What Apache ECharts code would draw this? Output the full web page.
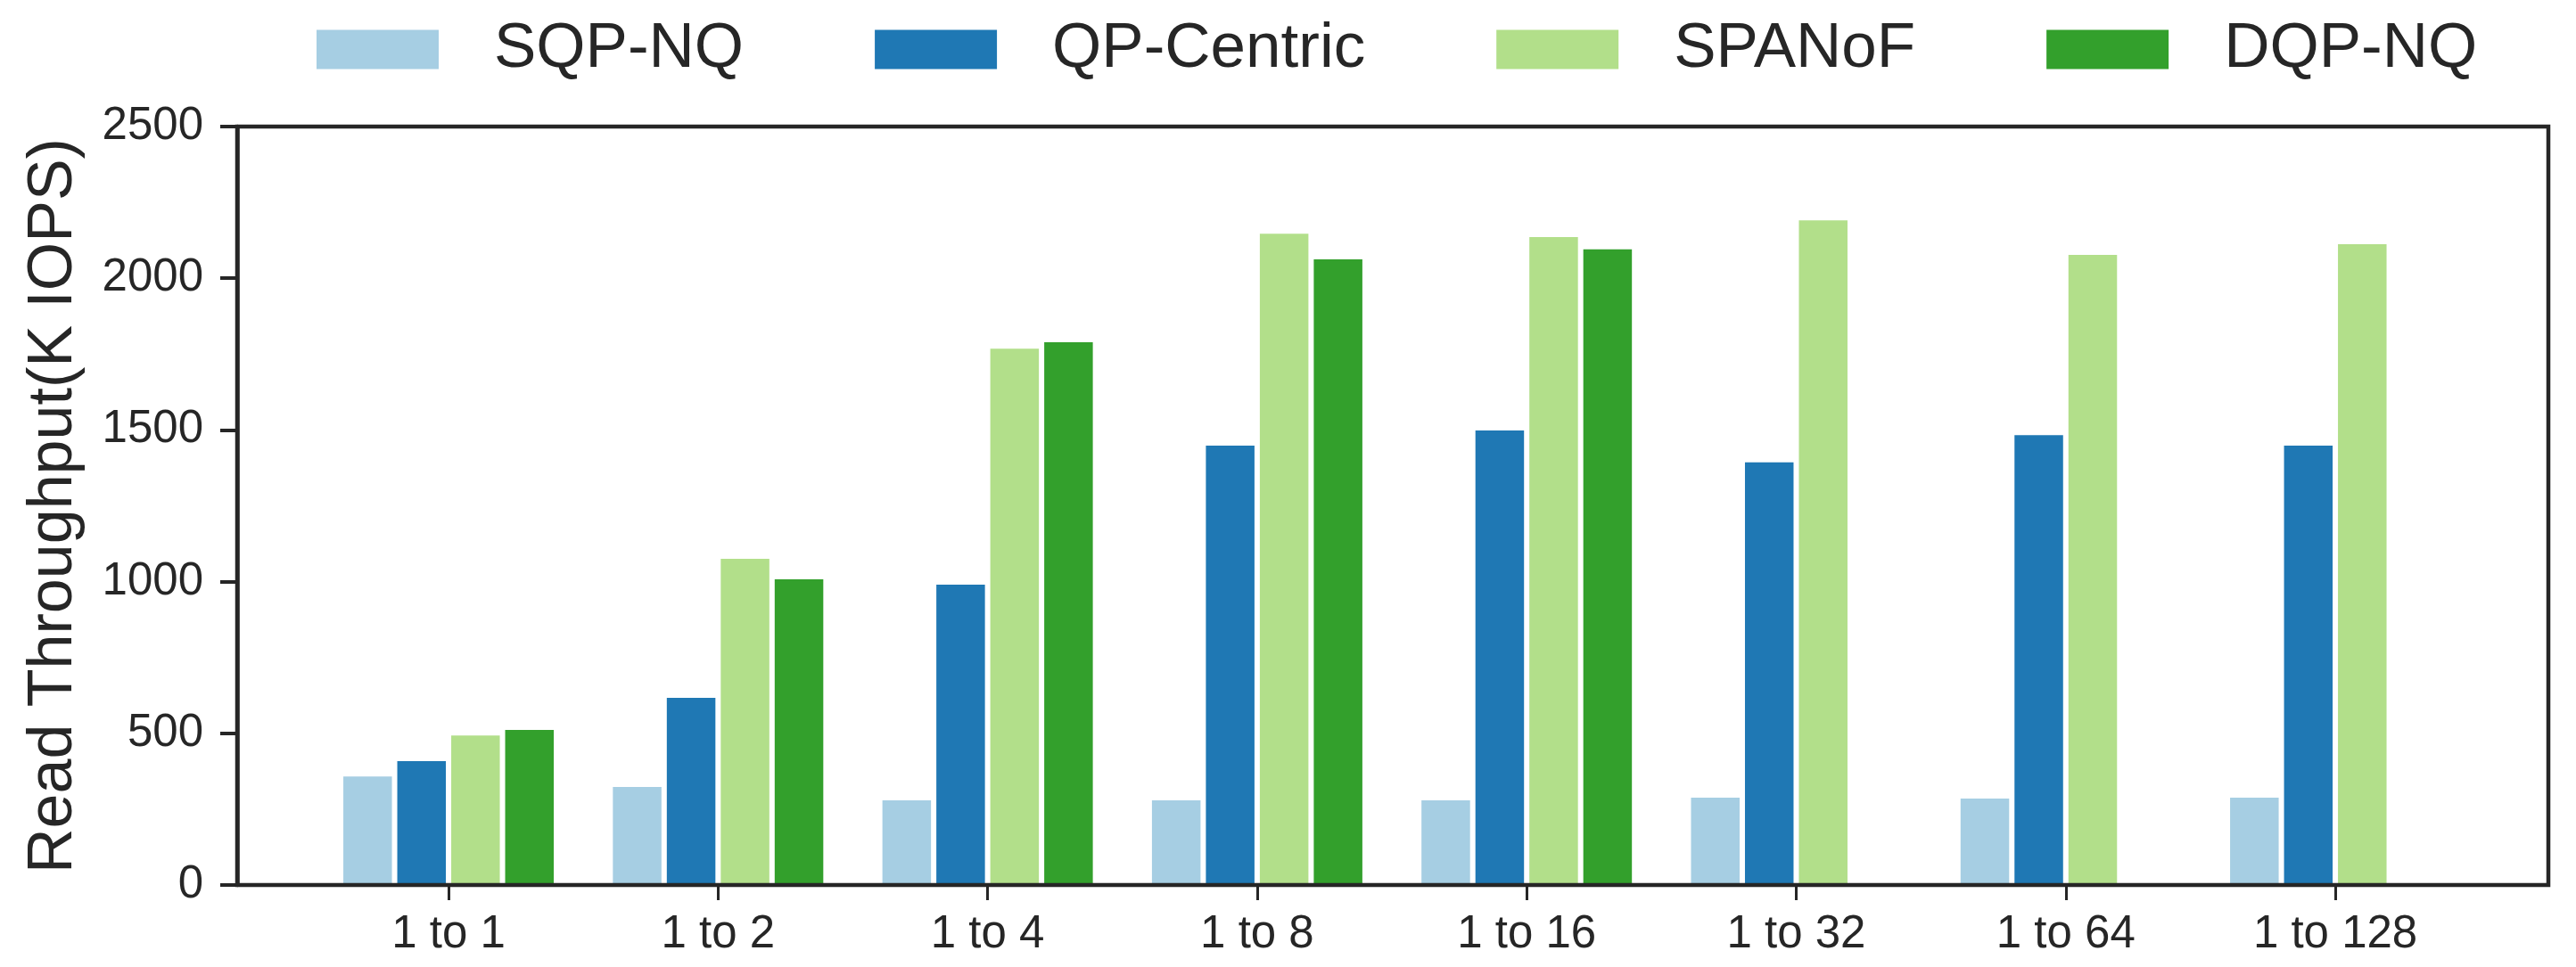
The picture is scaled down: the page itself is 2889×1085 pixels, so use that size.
<!DOCTYPE html>
<html>
<head>
<meta charset="utf-8">
<script src="https://cdn.jsdelivr.net/npm/echarts@6/dist/echarts.min.js"></script>
<style>
html,body{margin:0;padding:0;background:#fff;}
#chart{width:2889px;height:1085px;}
</style>
</head>
<body>
<div id="chart"></div>
<script>
const categories = ['1 to 1','1 to 2','1 to 4','1 to 8','1 to 16','1 to 32','1 to 64','1 to 128'];
const seriesNames = ['SQP-NQ','QP-Centric','SPANoF','DQP-NQ'];
const sqpNQ     = [358, 323, 279, 279, 279, 288, 285, 288];
const qpCentric = [408, 617, 990, 1448, 1498, 1393, 1483, 1448];
const spanof    = [493, 1075, 1768, 2147, 2136, 2191, 2077, 2112];
const dqpNQ     = [511, 1008, 1789, 2062, 2095, null, null, null];
const yTicks = [0, 500, 1000, 1500, 2000, 2500];
const colors = ['#a6cee3','#1f78b4','#b2df8a','#33a02c'];

const FONT = "'Liberation Sans', Arial, Helvetica, sans-serif";
const INK = '#262626';
const chart = echarts.init(document.getElementById('chart'), null, {renderer:'canvas'});
const values = [sqpNQ, qpCentric, spanof, dqpNQ];

chart.setOption({
  animation: false,
  backgroundColor: '#ffffff',
  textStyle: {fontFamily: FONT, color: INK},
  legend: {
    left: 350, top: 15,
    icon: 'rect',
    itemWidth: 137, itemHeight: 44,
    itemGap: 147,
    textStyle: {fontSize: 71, color: INK, fontFamily: FONT, padding: [0,0,0,57]},
    data: seriesNames
  },
  grid: [
    {left: 351.9, right: 118.8, top: 142, bottom: 92},
    {left: 266, right: 31, top: 142, bottom: 92, show: true, borderColor: INK, borderWidth: 4.5, backgroundColor: 'transparent', z: 5}
  ],
  xAxis: [
    {
      type: 'category', gridIndex: 0, data: categories, boundaryGap: true,
      axisLine: {show: false},
      axisTick: {show: true, alignWithLabel: true, length: 17, lineStyle: {color: INK, width: 3}},
      axisLabel: {fontSize: 51, color: INK, fontFamily: FONT, margin: 30},
      splitLine: {show: false}
    },
    {type: 'value', gridIndex: 1, show: false, min: 0, max: 1}
  ],
  yAxis: [
    {type: 'value', gridIndex: 0, min: 0, max: 2500, interval: 500, show: false},
    {
      type: 'value', gridIndex: 1, min: 0, max: 2500, interval: 500,
      name: 'Read Throughput(K IOPS)', nameLocation: 'middle', nameGap: 170,
      nameTextStyle: {fontSize: 70, color: INK, fontFamily: FONT},
      axisLine: {show: true, lineStyle: {color: INK, width: 4.5}},
      axisTick: {show: true, length: 19, lineStyle: {color: INK, width: 4}},
      axisLabel: {fontSize: 51, color: INK, fontFamily: FONT, margin: 38,
        formatter: v => yTicks.includes(v) ? String(v) : ''},
      splitLine: {show: false}
    }
  ],
  series: seriesNames.map((name, i) => ({
    name, type: 'bar', xAxisIndex: 0, yAxisIndex: 0,
    data: values[i],
    barWidth: 54.5, barGap: '11%',
    itemStyle: {color: colors[i]}
  }))
});
</script>
</body>
</html>
